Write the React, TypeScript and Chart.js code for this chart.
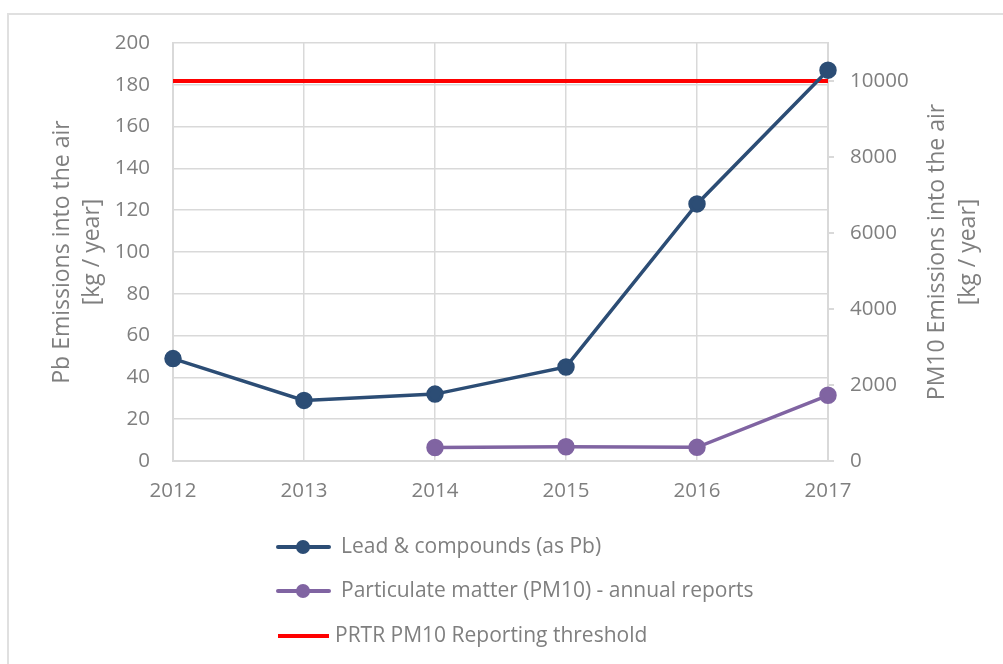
import React, { useEffect, useRef } from "react";
import { Chart, registerables } from "chart.js";

Chart.register(...registerables);

const years = ["2012", "2013", "2014", "2015", "2016", "2017"];
const leadValues = [49, 29, 32, 45, 123, 187];
const pm10Values = [null, null, 355, 375, 360, 1730];
const thresholdValues = [10000, 10000, 10000, 10000, 10000, 10000];
const rightTicks = [0, 2000, 4000, 6000, 8000, 10000];
const seriesLabels = [
  "Lead & compounds (as Pb)",
  "Particulate matter (PM10) - annual reports",
  "PRTR PM10 Reporting threshold",
];
const leftTitle = ["Pb Emissions into the air", "[kg / year]"];
const rightTitle = ["PM10 Emissions into the air", "[kg / year]"];

const FONT = "'Open Sans', sans-serif";
const TEXT = "#7f7f7f";
const GRID = "#d9d9d9";
const BLUE = "#2c4d75";
const PURPLE = "#8064a2";
const RED = "#ff0000";

const decorPlugin = {
  id: "decor",
  beforeDraw(chart: any) {
    const ctx = chart.ctx;
    ctx.save();
    ctx.fillStyle = "#ffffff";
    ctx.fillRect(0, 0, chart.width, chart.height);
    ctx.strokeStyle = "#e0e0e0";
    ctx.lineWidth = 2;
    ctx.beginPath();
    ctx.moveTo(8, chart.height);
    ctx.lineTo(8, 14);
    ctx.lineTo(chart.width, 14);
    ctx.stroke();
    ctx.restore();
  },
  afterDraw(chart: any) {
    const ctx = chart.ctx;
    const area = chart.chartArea;
    const cy = (area.top + area.bottom) / 2;
    ctx.save();
    ctx.fillStyle = TEXT;
    ctx.font = `23px ${FONT}`;
    ctx.textAlign = "center";
    ctx.textBaseline = "middle";
    const lx = [62, 92];
    leftTitle.forEach((t, i) => {
      ctx.save();
      ctx.translate(lx[i], cy);
      ctx.rotate(-Math.PI / 2);
      ctx.fillText(t, 0, 0);
      ctx.restore();
    });
    const rx = [937, 968];
    rightTitle.forEach((t, i) => {
      ctx.save();
      ctx.translate(rx[i], cy);
      ctx.rotate(-Math.PI / 2);
      ctx.fillText(t, 0, 0);
      ctx.restore();
    });
    // legend
    const ys = [547, 591, 636];
    ctx.font = `21px ${FONT}`;
    ctx.textAlign = "left";
    chart.data.datasets.forEach((ds: any, i: number) => {
      const y = ys[i];
      ctx.strokeStyle = ds.borderColor;
      ctx.lineWidth = 4;
      ctx.lineCap = i === 2 ? "butt" : "round";
      ctx.beginPath();
      ctx.moveTo(278, y);
      ctx.lineTo(329, y);
      ctx.stroke();
      if (ds.pointRadius > 0) {
        ctx.fillStyle = ds.pointBackgroundColor;
        ctx.beginPath();
        ctx.arc(303, y, 7, 0, Math.PI * 2);
        ctx.fill();
      }
      ctx.fillStyle = TEXT;
      ctx.fillText(ds.label, i === 2 ? 335 : 341, y);
    });
    ctx.restore();
  },
};

export default function App() {
  const ref = useRef<HTMLCanvasElement | null>(null);
  useEffect(() => {
    document.body.style.margin = "0";
    const canvas = ref.current;
    if (!canvas) return;
    const tickFont = { family: FONT, size: 20.5 };
    const chart = new Chart(canvas, {
      type: "line",
      data: {
        labels: years,
        datasets: [
          {
            label: seriesLabels[0],
            data: leadValues,
            yAxisID: "y",
            borderColor: BLUE,
            backgroundColor: BLUE,
            pointBackgroundColor: BLUE,
            pointBorderColor: BLUE,
            borderWidth: 3.5,
            pointRadius: 7,
            pointHoverRadius: 7,
            tension: 0,
          },
          {
            label: seriesLabels[1],
            data: pm10Values,
            yAxisID: "y1",
            borderColor: PURPLE,
            backgroundColor: PURPLE,
            pointBackgroundColor: PURPLE,
            pointBorderColor: PURPLE,
            borderWidth: 3.5,
            pointRadius: 7,
            pointHoverRadius: 7,
            tension: 0,
            spanGaps: false,
          },
          {
            label: seriesLabels[2],
            data: thresholdValues,
            yAxisID: "y1",
            borderColor: RED,
            backgroundColor: RED,
            pointBackgroundColor: RED,
            borderWidth: 4,
            pointRadius: 0,
            pointHoverRadius: 0,
            tension: 0,
          },
        ],
      },
      options: {
        responsive: false,
        animation: false,
        devicePixelRatio: 1,
        layout: { padding: { top: 43, left: 0, right: 0, bottom: 0 } },
        plugins: {
          legend: { display: false },
          tooltip: { enabled: false },
          title: { display: false },
        },
        scales: {
          x: {
            type: "category",
            offset: false,
            grid: { color: GRID, lineWidth: 1.5, drawTicks: false },
            border: { color: GRID, width: 2 },
            ticks: { color: TEXT, font: tickFont, padding: 18, maxRotation: 0 },
            afterFit(scale: any) {
              scale.height = 203;
            },
          },
          y: {
            position: "left",
            min: 0,
            max: 200,
            grid: { color: GRID, lineWidth: 1.5, drawTicks: false },
            border: { color: GRID, width: 2 },
            ticks: { stepSize: 20, color: TEXT, font: tickFont, padding: 23 },
            afterFit(scale: any) {
              scale.width = 173;
            },
          },
          y1: {
            position: "right",
            min: 0,
            max: 11000,
            grid: {
              drawOnChartArea: false,
              color: GRID,
              lineWidth: 2,
              drawTicks: true,
              tickLength: 6,
            },
            border: { color: GRID, width: 2 },
            ticks: {
              color: TEXT,
              font: tickFont,
              padding: 16,
              autoSkip: false,
              callback: (v: any) => String(v),
            },
            afterBuildTicks(scale: any) {
              scale.ticks = rightTicks.map((v) => ({ value: v }));
            },
            afterFit(scale: any) {
              scale.width = 175;
            },
          },
        },
      },
      plugins: [decorPlugin],
    });
    return () => chart.destroy();
  }, []);
  return (
    <div style={{ width: 1003, height: 664 }}>
      <canvas ref={ref} width={1003} height={664} style={{ display: "block" }} />
    </div>
  );
}
